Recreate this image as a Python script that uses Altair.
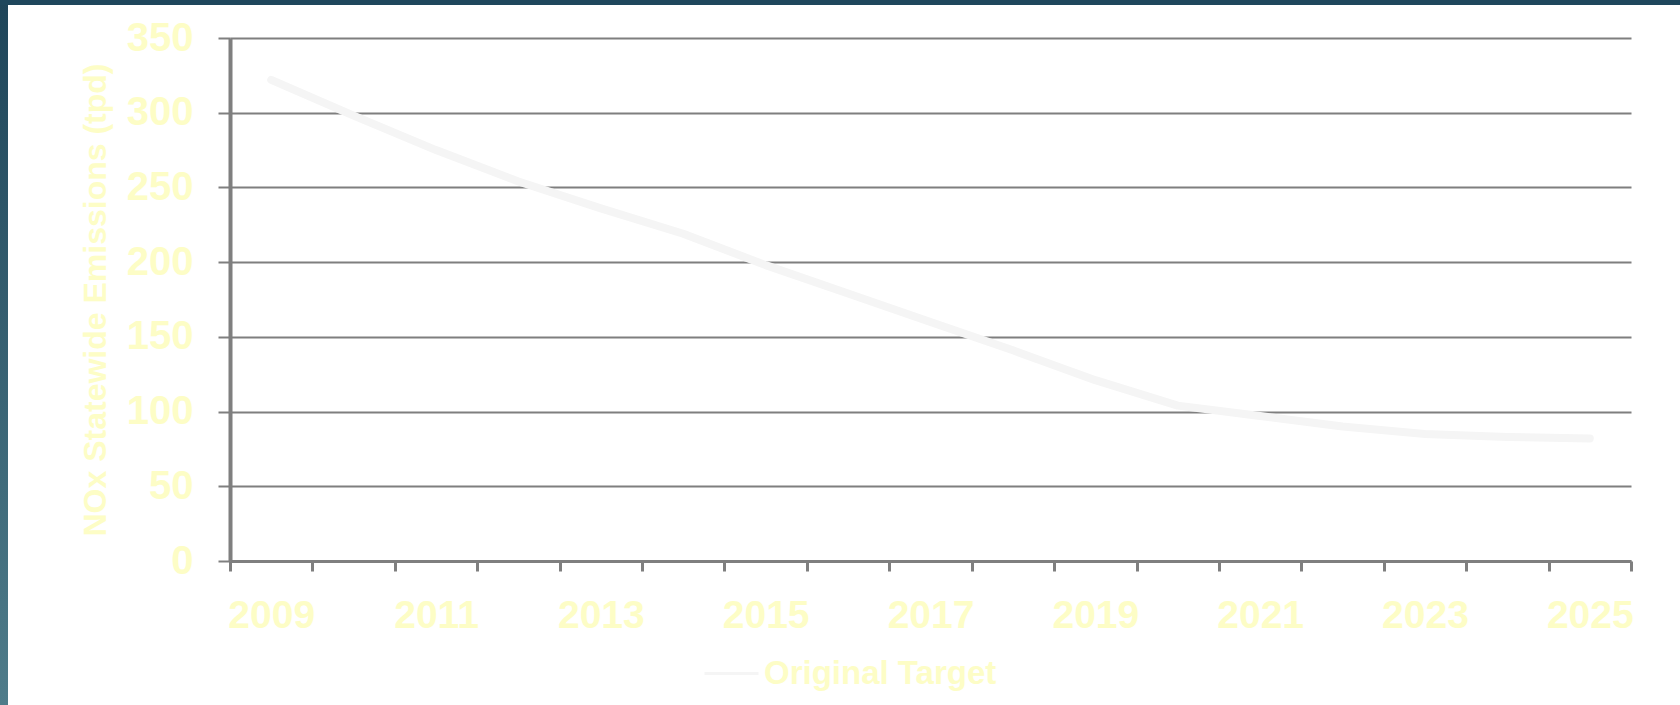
import altair as alt
import pandas as pd

# ---- data ----
years = list(range(2009, 2026))
original_target = [322, 298, 275, 254, 236, 219, 198, 179, 160, 141, 121, 104, 97, 90, 85, 83, 82]
series_names = ["Original Target"]
label_years = [2009, 2011, 2013, 2015, 2017, 2019, 2021, 2023, 2025]
y_ticks = [0, 50, 100, 150, 200, 250, 300, 350]
y_title = "NOx Statewide Emissions (tpd)"

df = pd.DataFrame({"year": years, "value": original_target, "series": series_names[0]})

TEXT = "#fdfdc6"
GRID = "#7f7f7f"
LINE = "#f5f5f5"
FONT = "Liberation Sans"

W, H = 1401, 523
PAD = {"left": 230, "top": 38, "right": 49, "bottom": 144}

x_tick_values = [y - 0.5 for y in years] + [years[-1] + 0.5]
label_expr = (
    f"indexof({label_years}, datum.value + 0.5) >= 0 ? format(datum.value + 0.5, 'd') : ''"
)
band = W / len(years)

line = alt.Chart(df).mark_line(strokeWidth=8, strokeCap="round", strokeJoin="round").encode(
    x=alt.X(
        "year:Q",
        scale=alt.Scale(domain=[years[0] - 0.5, years[-1] + 0.5], nice=False, zero=False),
        axis=alt.Axis(
            values=x_tick_values,
            labelExpr=label_expr,
            labelOffset=band / 2,
            labelOverlap=False,
            labelFlush=False,
            grid=False,
            tickSize=10,
            tickWidth=3,
            tickColor=GRID,
            domainColor=GRID,
            domainWidth=3,
            labelFont=FONT,
            labelFontSize=39,
            labelFontWeight="bold",
            labelColor=TEXT,
            labelPadding=25,
            title=None,
        ),
    ),
    y=alt.Y(
        "value:Q",
        scale=alt.Scale(domain=[0, 350], nice=False),
        axis=alt.Axis(
            values=y_ticks,
            grid=True,
            gridColor=GRID,
            gridWidth=2,
            gridOpacity=1,
            domainColor=GRID,
            domainWidth=4,
            tickSize=12,
            tickWidth=2,
            tickColor=GRID,
            labelFont=FONT,
            labelFontSize=40,
            labelFontWeight="bold",
            labelColor=TEXT,
            labelPadding=25,
            title=y_title,
            titleFont=FONT,
            titleFontSize=32,
            titleFontWeight="bold",
            titleColor=TEXT,
            titleX=-135,
            titleY=H / 2,
            titleAngle=270,
            titleAlign="center",
            titleBaseline="middle",
        ),
    ),
    color=alt.Color(
        "series:N",
        scale=alt.Scale(domain=series_names, range=[LINE]),
        legend=alt.Legend(
            orient="none",
            legendX=473,
            legendY=607,
            title=None,
            symbolType="stroke",
            symbolSize=2916,
            symbolStrokeWidth=3,
            labelFont=FONT,
            labelFontSize=33,
            labelFontWeight="bold",
            labelColor=TEXT,
            labelOffset=4,
            labelLimit=0,
            padding=0,
        ),
    ),
)

one = alt.Data(values=[{"k": 1}])
border_left = alt.Chart(one).mark_rect(
    color={
        "gradient": "linear",
        "x1": 0, "y1": 0, "x2": 0, "y2": 1,
        "stops": [
            {"offset": 0, "color": "#1f4559"},
            {"offset": 1, "color": "#4f7c8a"},
        ],
    }
).encode(
    x=alt.value(-PAD["left"]),
    x2=alt.value(-PAD["left"] + 8),
    y=alt.value(-PAD["top"]),
    y2=alt.value(H + PAD["bottom"]),
)
border_top = alt.Chart(one).mark_rect(color="#1f475c").encode(
    x=alt.value(-PAD["left"]),
    x2=alt.value(W + PAD["right"]),
    y=alt.value(-PAD["top"]),
    y2=alt.value(-PAD["top"] + 5),
)

chart = (
    alt.layer(line, border_left, border_top)
    .properties(width=W, height=H, autosize=alt.AutoSizeParams(type="none"), padding=PAD)
    .configure(background="white")
    .configure_view(stroke=None)
)

chart.save("out.html", embed_options={"renderer": "svg", "actions": False})
